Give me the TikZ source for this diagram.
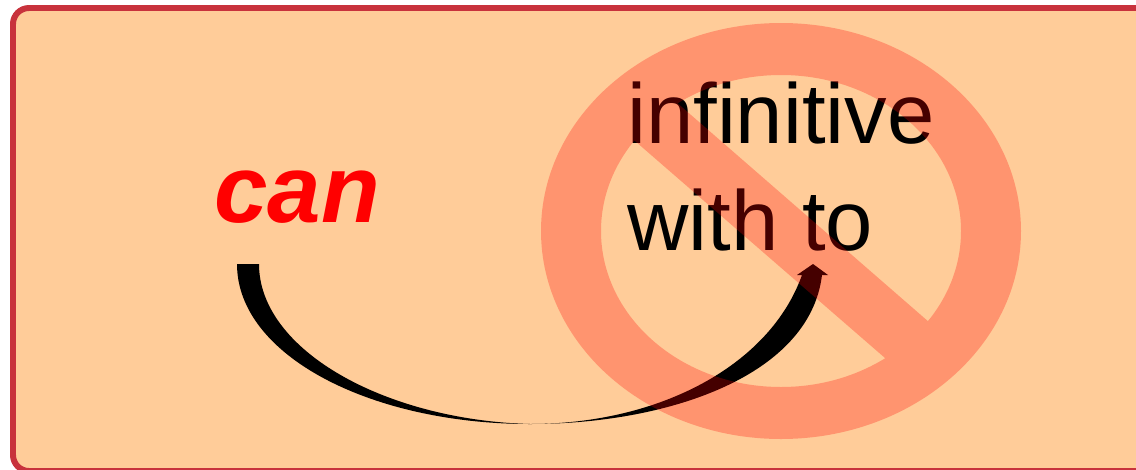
\documentclass[tikz,border=0pt]{standalone}
\usepackage{fontspec}
\setmainfont{Liberation Sans}
\definecolor{panelfill}{RGB}{255,204,153}
\definecolor{paneledge}{RGB}{200,50,60}
\usetikzlibrary{positioning}
\tikzset{
  panel/.style={draw=paneledge, fill=panelfill, line width=5.1pt, rounded corners=0.48cm},
  modalword/.style={text=red, inner sep=0pt, font=\fontsize{82}{90}\selectfont\bfseries\itshape},
  bannedword/.style={text=black, inner sep=0pt, align=left, font=\fontsize{72.6}{91.3}\selectfont}
}

\begin{document}
\begin{tikzpicture}[x=0.03cm, y=-0.03cm]
    \clip (0,0) rectangle (1136,469);
    \draw[panel] (13,8) rectangle (1160,471);

    \node[modalword, anchor=base west] (can) at (214,222) {can};
    \node[bannedword, anchor=north west] (infinitive) at (627,82) {infinitive\\with to};

    % tapered curve, thin at the bottom
    \coordinate (startL) at (237,264);
    \coordinate (startR) at (259,264);
    \coordinate (low) at (530,424);
    \coordinate (neckL) at (802,275);
    \coordinate (neckR) at (822,275);
    \fill[black] (startL) .. controls (237,355) and (370,424) .. (low)
      .. controls (670,424) and (810,375) .. (neckR)
      -- (828,275) -- (813,264) -- (797,275) -- (neckL)
      .. controls (770,365) and (660,424) .. (low)
      .. controls (385,420) and (259,350) .. (startR) -- cycle;

    % no-entry sign on top of the text
    \begin{scope}[transparency group, opacity=0.27]
      \fill[red, even odd rule] (781,231) ellipse [x radius=240, y radius=208]
        (781,231) ellipse [x radius=180, y radius=156];
      \fill[red] (620,128) -- (660,88) -- (945,336) -- (900,371) -- cycle;
    \end{scope}
  \end{tikzpicture}
\end{document}
